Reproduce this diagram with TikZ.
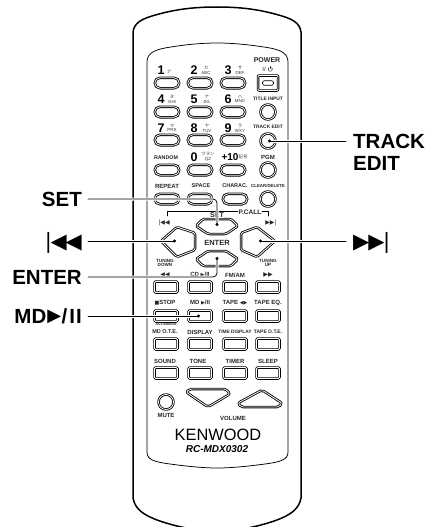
\documentclass[tikz,border=0pt]{standalone}
\usepackage{fontspec}
\setmainfont{Liberation Sans}
\newfontfamily\symfont{DejaVu Sans}
\newfontfamily\kanafont{Noto Sans CJK JP}
\usetikzlibrary{arrows.meta,shapes.misc}

\tikzset{
  keytext/.style={inner sep=0pt,align=center,text=black!85,font=\bfseries\fontsize{6}{6}\selectfont},
  smalltext/.style={keytext,font=\bfseries\fontsize{4.6}{4.8}\selectfont},
  digittext/.style={inner sep=0pt,font=\bfseries\fontsize{12.5}{13}\selectfont},
  kanatext/.style={inner sep=0pt,align=center,text=black!80,font=\fontsize{4.4}{4.9}\selectfont},
  biglabel/.style={inner sep=0pt,align=left,font=\bfseries\fontsize{20.5}{22}\selectfont},
  rowlabel/.style={biglabel,anchor=east,text height=14pt,text depth=0pt},
  keyline/.style={draw,line width=0.85pt,double=white,double distance=0.8pt},
  pillkey/.style={keyline,rounded rectangle,minimum width=24.5pt,minimum height=10.5pt,inner sep=0pt},
  squarekey/.style={keyline,rectangle,rounded corners=1.2pt,minimum width=23pt,minimum height=11pt,inner sep=0pt},
  roundkey/.style={keyline,circle,minimum size=15pt,inner sep=0pt},
  leader/.style={line width=0.75pt,preaction={draw=white,line width=3pt}},
  dotted end/.style={-{Circle[length=3pt]}}
}

\begin{document}
\begin{tikzpicture}[x=1pt,y=-1pt,line cap=round,line join=round]
  \useasboundingbox (0,0) rectangle (429,527);
  % case and key panel
  \draw[line width=1.5pt] (133,498) -- (133,32) .. controls (134,23) and (142,19) .. (152,16) .. controls (175,9) and (195,7) .. (217,7) .. controls (239,7) and (259,9) .. (282,16) .. controls (292,19) and (300,23) .. (301,32) -- (301,498) .. controls (299,510) and (289,518) .. (257,526) .. controls (244,529) and (232,531) .. (217,531) .. controls (202,531) and (190,529) .. (177,526) .. controls (145,518) and (135,510) .. (133,498) -- cycle;
  \draw[line width=0.75pt] (147,452) -- (147,62) .. controls (147,53) and (155,50) .. (165,48) .. controls (182,45) and (200,43) .. (217,43) .. controls (234,43) and (252,45) .. (270,48) .. controls (280,50) and (288,53) .. (288,62) -- (288,452) .. controls (288,460) and (280,462) .. (265,464) .. controls (250,466) and (232,468) .. (217,468) .. controls (202,468) and (185,466) .. (170,464) .. controls (155,462) and (147,460) .. (147,452);

  % number keys
  \node[pillkey] (key1) at (167,83) {};
  \node[pillkey] (key2) at (200,83) {};
  \node[pillkey] (key3) at (233,83) {};
  \node[pillkey] (key4) at (167,112) {};
  \node[pillkey] (key5) at (200,112) {};
  \node[pillkey] (key6) at (233,112) {};
  \node[pillkey] (key7) at (167,140) {};
  \node[pillkey] (key8) at (200,140) {};
  \node[pillkey] (key9) at (233,140) {};
  \node[pillkey] (keyrandom) at (167,170) {};
  \node[pillkey] (key0) at (200,170) {};
  \node[pillkey] (keyten) at (233,170) {};
  \node[pillkey] (keyrepeat) at (167,199) {};
  \node[pillkey] (keyspace) at (200,199) {};
  \node[pillkey] (keycharac) at (235,199) {};
  \node[digittext] (num1) at (161,70) {1};
  \node[digittext] (num2) at (194,70) {2};
  \node[digittext] (num3) at (228,70) {3};
  \node[digittext] (num4) at (161,99) {4};
  \node[digittext] (num5) at (194,99) {5};
  \node[digittext] (num6) at (228,99) {6};
  \node[digittext] (num7) at (161,128) {7};
  \node[digittext] (num8) at (194,128) {8};
  \node[digittext] (num9) at (228,128) {9};
  \node[digittext] (num0) at (194,157) {0};
  \node[digittext,font=\bfseries\fontsize{10}{10}\selectfont] (numten) at (230,157) {+10};
  \node[kanatext] (kana1) at (169,72) {\kanafont ア};
  \node[kanatext] (kana2) at (206,70) {\kanafont カ\\ABC};
  \node[kanatext] (kana3) at (240,70) {\kanafont サ\\DEF};
  \node[kanatext] (kana4) at (172,99) {\kanafont タ\\GHI};
  \node[kanatext] (kana5) at (207,99) {\kanafont ナ\\JKL};
  \node[kanatext] (kana6) at (240,99) {\kanafont ハ\\MNO};
  \node[kanatext] (kana7) at (172,128) {\kanafont マ\\PRS};
  \node[kanatext] (kana8) at (207,128) {\kanafont ヤ\\TUV};
  \node[kanatext] (kana9) at (240,128) {\kanafont ラ\\WXY};
  \node[kanatext] (kana0) at (208,157) {\kanafont ワヲン\\QZ};
  \node[kanatext] (kanaten) at (243,157) {\kanafont 記号};

  % right column
  \node[keyline,rounded corners=1pt,minimum width=20pt,minimum height=15pt,inner sep=0pt] (keypower) at (268,83) {};
  \node[draw,line width=0.7pt,rounded corners=1.5pt,minimum width=11pt,minimum height=4.5pt,inner sep=0pt] (powerslot) at (268,83) {};
  \node[roundkey] (keytitle) at (268,112) {};
  \node[roundkey] (keytrack) at (268,141) {};
  \node[roundkey] (keypgm) at (268,170) {};
  \node[roundkey] (keyclear) at (268,199) {};
  \node[keytext,font=\bfseries\fontsize{7}{7}\selectfont] (txtpower) at (267,60) {POWER};
  \node[keytext,font=\fontsize{6}{6}\selectfont] (txtonoff) at (264,69) {I/};
  \draw[line width=0.4pt] (271.6,67.6) arc (-50:230:2.1) (270.3,66.2) -- (270.3,69);
  \node[keytext,font=\bfseries\fontsize{4.9}{5}\selectfont] (txttitle) at (268,99) {TITLE INPUT};
  \node[keytext,font=\bfseries\fontsize{4.9}{5}\selectfont] (txttrack) at (268,127) {TRACK EDIT};
  \node[keytext] (txtpgm) at (268,157) {PGM};
  \node[keytext,font=\bfseries\fontsize{4.4}{5}\selectfont] (txtclear) at (268,186) {CLEAR/DELETE};
  \node[keytext,font=\bfseries\fontsize{5.3}{5}\selectfont] (txtrandom) at (166,158) {RANDOM};
  \node[keytext] (txtrepeat) at (167,186) {REPEAT};
  \node[keytext,font=\bfseries\fontsize{5.5}{5}\selectfont] (txtspace) at (201,186) {SPACE};
  \node[keytext,font=\bfseries\fontsize{5.5}{5}\selectfont] (txtcharac) at (235,186) {CHARAC.};

  % cursor keys
  \draw[keyline,rounded corners=1.5pt] (196,226) -- (203,219) -- (231,219) -- (238,226) -- (226,234) -- (208,234) -- cycle;
  \draw[keyline,rounded corners=1.5pt] (196,259) -- (208,251) -- (226,251) -- (238,259) -- (231,266) -- (203,266) -- cycle;
  \draw[keyline,rounded corners=1.5pt] (161,241) -- (177,227) -- (195,233) -- (195,250) -- (177,257) -- cycle;
  \draw[keyline,rounded corners=1.5pt] (275,241) -- (257,227) -- (241,233) -- (241,250) -- (257,257) -- cycle;
  \coordinate (setdot) at (217,226);
  \coordinate (enterdot) at (217,257);
  \coordinate (prevdot) at (176,241);
  \coordinate (nextdot) at (259,241);
  \coordinate (mddot) at (200,316);
  \coordinate (trackdot) at (268,141);
  \coordinate (trackend) at (346,141);
  \coordinate (nextend) at (346,241);
  \draw[line width=0.6pt] (167,216) -- (167,211) -- (268,211) -- (268,216);
  \node[keytext,fill=white,inner sep=1pt,font=\bfseries\fontsize{6.5}{6}\selectfont] (txtpcall) at (250,212) {P.CALL};
  \node[keytext,fill=white,inner sep=0.5pt,font=\bfseries\fontsize{7}{7}\selectfont] (txtsetkey) at (217,215) {SET};
  \node[keytext,font=\bfseries\fontsize{7.5}{7}\selectfont] (txtenter) at (217,243) {ENTER};
  \node[keytext,font=\symfont\fontsize{6}{6}\selectfont] (txtprev) at (164,223) {|◀◀};
  \node[keytext,font=\symfont\fontsize{6}{6}\selectfont] (txtnext) at (271,223) {▶▶|};
  \node[smalltext] (txtdown) at (165,263) {TUNING\\DOWN};
  \node[smalltext] (txtup) at (268,263) {TUNING\\UP};

  % square keys
  \node[squarekey] (keyb1) at (166,287) {};
  \node[squarekey] (keyb2) at (200,287) {};
  \node[squarekey] (keyb3) at (235,287) {};
  \node[squarekey] (keyb4) at (268,287) {};
  \node[squarekey] (keystop) at (166,316) {};
  \node[squarekey] (keymd) at (200,316) {};
  \node[squarekey] (keytape) at (235,316) {};
  \node[squarekey] (keyeq) at (268,316) {};
  \node[squarekey] (keyote) at (166,344) {};
  \node[squarekey] (keydisplay) at (200,344) {};
  \node[squarekey] (keytime) at (235,344) {};
  \node[squarekey] (keytapeote) at (268,344) {};
  \node[squarekey] (keysound) at (166,373) {};
  \node[squarekey] (keytone) at (200,373) {};
  \node[squarekey] (keytimer) at (235,373) {};
  \node[squarekey] (keysleep) at (268,373) {};
  \node[keytext,font=\symfont\fontsize{6}{6}\selectfont] (txtrew) at (165,275) {◀◀};
  \node[keytext] (txtcd) at (200,275) {CD {\symfont\fontsize{5}{5}\selectfont ▶}/II};
  \node[keytext] (txtfm) at (235,275) {FM/AM};
  \node[keytext,font=\symfont\fontsize{6}{6}\selectfont] (txtff) at (268,275) {▶▶};
  \node[keytext] (txtstop) at (165,303) {{\symfont\fontsize{5}{5}\selectfont ■}STOP};
  \node[keytext] (txtmd) at (200,303) {MD {\symfont\fontsize{5}{5}\selectfont ▶}/II};
  \node[keytext] (txttape) at (235,303) {TAPE {\symfont\fontsize{5}{5}\selectfont ◀▶}};
  \node[keytext] (txteq) at (268,303) {TAPE EQ.};
  \node[keytext,font=\bfseries\fontsize{3.4}{4}\selectfont] (txtauto) at (166,324) {AUTO/MANU};
  \node[keytext,font=\bfseries\fontsize{5.5}{5}\selectfont] (txtote) at (165,332) {MD O.T.E.};
  \node[keytext] (txtdisplay) at (200,332) {DISPLAY};
  \node[keytext,font=\bfseries\fontsize{4.8}{5}\selectfont] (txttime) at (235,332) {TIME DISPLAY};
  \node[keytext,font=\bfseries\fontsize{5}{5}\selectfont] (txttapeote) at (268,332) {TAPE O.T.E.};
  \node[keytext] (txtsound) at (165,361) {SOUND};
  \node[keytext] (txttone) at (198,361) {TONE};
  \node[keytext] (txttimer) at (235,361) {TIMER};
  \node[keytext] (txtsleep) at (268,361) {SLEEP};

  % mute, volume and the maker's mark
  \node[roundkey] (keymute) at (166,402) {};
  \draw[keyline,rounded corners=2pt] (186,392) -- (190,389) -- (226,389) -- (230,394) -- (208,407) -- cycle;
  \draw[keyline,rounded corners=2pt] (238,403) -- (262,390) -- (282,403) -- (279,407) -- (241,407) -- cycle;
  \node[keytext] (txtmute) at (166,415) {MUTE};
  \node[keytext] (txtvolume) at (233,418) {VOLUME};
  \node[inner sep=0pt,font=\fontsize{16.4}{17}\selectfont] (brand) at (218,435) {KENWOOD};
  \node[inner sep=0pt,font=\bfseries\itshape\fontsize{10}{10}\selectfont] (model) at (217,449) {RC-MDX0302};

  % callouts
  \node[rowlabel] (lblset) at (82,199) {SET};
  \node[rowlabel,font=\symfont\fontsize{21}{21}\selectfont] (lblprev) at (82,241) {|\kern-1.5pt◀\kern-1pt◀};
  \node[rowlabel] (lblenter) at (82,277) {ENTER};
  \node[rowlabel] (lblmd) at (82,316) {MD\kern1pt\raisebox{1.6pt}{\symfont\fontsize{18}{18}\selectfont ▶}\kern0.5pt/\kern2pt I\kern1pt I};
  \node[biglabel,anchor=west] (lbltrack) at (353,152) {TRACK\\EDIT};
  \node[rowlabel,anchor=west,font=\symfont\fontsize{21}{21}\selectfont] (lblnext) at (353,241) {▶\kern-1pt▶\kern-1.5pt|};
  \draw[leader,dotted end,rounded corners=4pt] (lblset.east) ++(6,0) -- (217,199) -- (setdot);
  \draw[leader,dotted end] (lblprev.east) ++(6,0) -- (prevdot);
  \draw[leader,dotted end,rounded corners=4pt] (lblenter.east) ++(6,0) -- (217,277) -- (enterdot);
  \draw[leader,dotted end] (lblmd.east) ++(6,0) -- (mddot);
  \draw[leader,dotted end] (trackend) -- (trackdot);
  \draw[leader,dotted end] (nextend) -- (nextdot);
\end{tikzpicture}
\end{document}
